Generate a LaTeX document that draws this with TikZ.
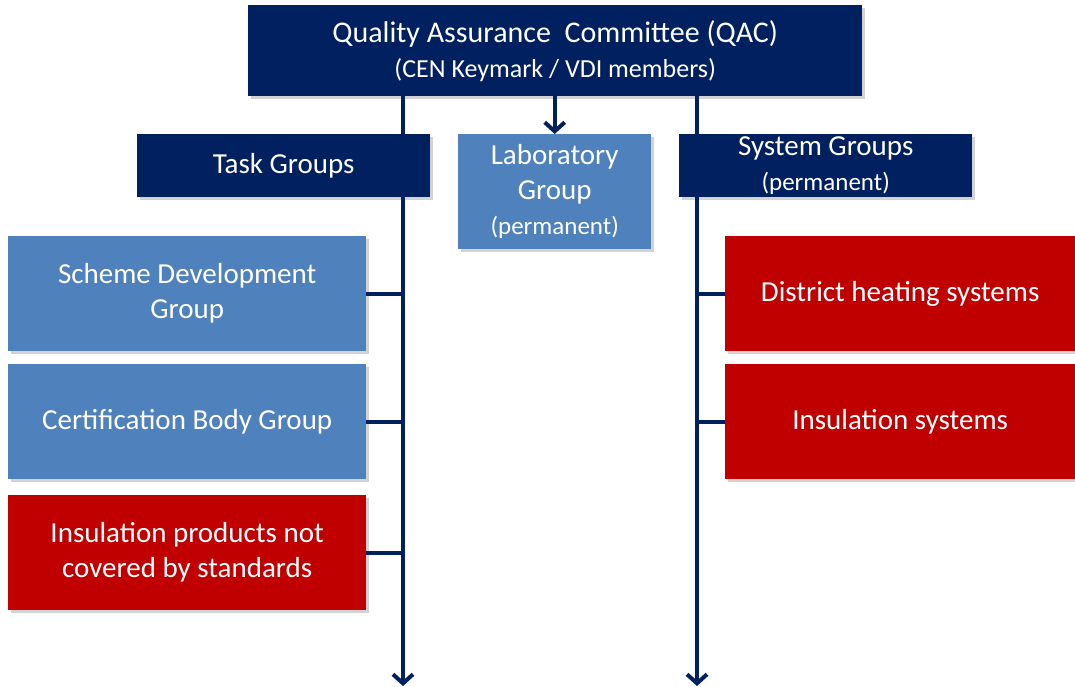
\documentclass[tikz,border=0pt]{standalone}
\usepackage{fontspec}
\setmainfont{Carlito}
\usetikzlibrary{arrows.meta, positioning, shadows}

\definecolor{navy}{RGB}{0,32,96}
\definecolor{lightblue}{RGB}{79,129,189}
\definecolor{darkred}{RGB}{192,0,0}

\newcommand{\permnote}{{\fontsize{25}{34}\selectfont (permanent)}}

\begin{document}
\begin{tikzpicture}[
    x=1pt, y=-1pt,
    grp/.style={rectangle, draw=none, text=white, align=center,
                inner sep=0pt, anchor=north west,
                font=\fontsize{29}{35}\selectfont,
                drop shadow={shadow xshift=3pt, shadow yshift=-3pt, opacity=0.35}},
    head/.style={grp, fill=navy},
    lab/.style={grp, fill=lightblue},
    prod/.style={grp, fill=darkred},
    trunk/.style={draw=navy, line width=4pt},
    arrow/.style={trunk, -{Straight Barb[length=9pt, width=20pt, line width=4pt]}}
]

% Rahmen
\useasboundingbox (0,0) rectangle (1075,686);

% Oberste Ebene - QAC
\node[head, minimum width=614pt, minimum height=91pt] (qac) at (248,5)
    {{\fontsize{30}{34}\selectfont Quality Assurance\ \ Committee (QAC)}\\
     {\fontsize{26}{34}\selectfont (CEN Keymark / VDI members)}};

% Zweite Ebene
\node[head, minimum width=293pt, minimum height=63pt] (tg) at (137,134) {Task Groups};
\node[lab, minimum width=193pt, minimum height=115pt] (lg) at (458,134)
    {Laboratory\\Group\\\permnote};
\node[head, minimum width=293pt, minimum height=63pt] (sg) at (679,134)
    {System Groups\\\permnote};

% Task Groups
\node[lab, minimum width=358pt, minimum height=115pt] (sdg) at (8,236) {Scheme Development\\Group};
\node[lab, minimum width=358pt, minimum height=115pt] (cbg) at (8,364) {Certification Body Group};
\node[prod, minimum width=358pt, minimum height=115pt] (ipg) at (8,495) {Insulation products not\\covered by standards};

% System Groups
\node[prod, minimum width=350pt, minimum height=115pt] (dhs) at (725,236) {District heating systems};
\node[prod, minimum width=350pt, minimum height=115pt] (ins) at (725,364) {Insulation systems};

% Hauptlinien
\coordinate (endL) at (403,686);
\coordinate (endR) at (697,686);
\draw[arrow] (qac.south -| endL) -- (endL);
\draw[arrow] (qac.south -| endR) -- (endR);
\draw[arrow] (qac.south -| lg.north) -- (lg.north);

% Abzweigungen
\draw[trunk] (sdg.east) -- (sdg.east -| endL);
\draw[trunk] (cbg.east) -- (cbg.east -| endL);
\draw[trunk] (ipg.east) -- (ipg.east -| endL);
\draw[trunk] (dhs.west) -- (dhs.west -| endR);
\draw[trunk] (ins.west) -- (ins.west -| endR);

\end{tikzpicture}
\end{document}
